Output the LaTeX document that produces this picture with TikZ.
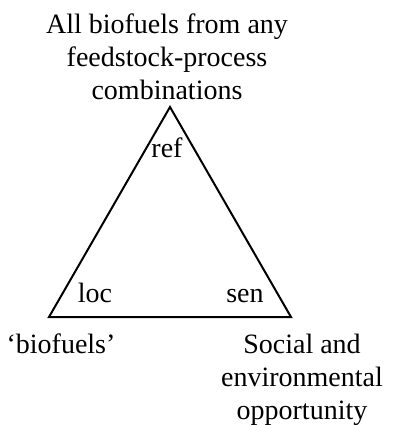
\documentclass[tikz,border=0pt]{standalone}
\usepackage{fontspec}
\setmainfont{Liberation Serif}
\begin{document}
\begin{tikzpicture}[x=0.5pt, y=-0.5pt, thick,
    label text/.style={font=\fontsize{14}{16.5}\selectfont, inner sep=0pt, align=center, anchor=base}]
    % Page frame
    \useasboundingbox (0,0) rectangle (393,425);

    % Corners of the triangle
    \coordinate (top) at (170,107);
    \coordinate (left) at (49,317);
    \coordinate (right) at (291,317);

    % Triangle
    \draw[line width=1pt, line join=miter] (top) -- (left) -- (right) -- cycle;

    % Corner marks inside
    \node[label text] (ref) at (167,157) {ref};
    \node[label text] (loc) at (95,302) {loc};
    \node[label text] (sen) at (245,302) {sen};

    % Texts at the corners (base = last line)
    \node[label text] (all) at (167,99) {All biofuels from any\\feedstock-process\\combinations};
    \node[label text] (bio) at (61,353) {`biofuels'};
    \node[label text] (soc) at (302,419) {Social and\\environmental\\opportunity};
\end{tikzpicture}
\end{document}
